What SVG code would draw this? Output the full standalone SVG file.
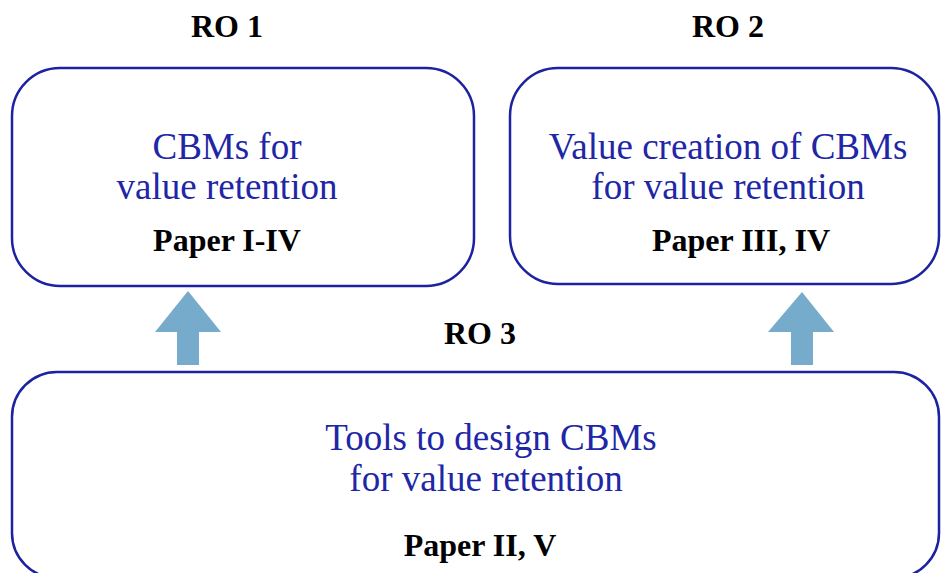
<svg xmlns="http://www.w3.org/2000/svg" width="941" height="573" viewBox="0 0 941 573">
<style>
.box{fill:#fff;stroke:#1c22a0;stroke-width:2.5}
.t{font-family:"Liberation Serif",serif;font-size:37px;fill:#2026a6;text-anchor:middle}
.b{font-family:"Liberation Serif",serif;font-size:32px;font-weight:bold;fill:#000;text-anchor:middle}
.arr{fill:#76abcc}
</style>
<rect width="941" height="573" fill="#fff"/>
<text class="b" x="227" y="37">RO 1</text>
<text class="b" x="728" y="37">RO 2</text>
<text class="b" x="480" y="344">RO 3</text>
<g id="node1">
<rect class="box" x="12" y="68" width="462" height="218" rx="48"/>
<text class="t" x="227" y="159">CBMs for</text>
<text class="t" x="227" y="199">value retention</text>
<text class="b" x="227" y="251">Paper I-IV</text>
</g>
<g id="node2">
<rect class="box" x="510" y="68" width="429" height="216" rx="48"/>
<text class="t" x="728" y="159">Value creation of CBMs</text>
<text class="t" x="728" y="199">for value retention</text>
<text class="b" x="741" y="251">Paper III, IV</text>
</g>
<g id="node3">
<rect class="box" x="12" y="372" width="927" height="206" rx="45"/>
<text class="t" x="491" y="450">Tools to design CBMs</text>
<text class="t" x="486" y="491">for value retention</text>
<text class="b" x="480" y="556">Paper II, V</text>
</g>
<g id="connectors">
<polygon class="arr" points="188,291 221,332 199,332 199,365 177,365 177,332 155,332"/>
<polygon class="arr" points="802,292 834,332 813,332 813,365 791,365 791,332 768,332"/>
</g>
</svg>
